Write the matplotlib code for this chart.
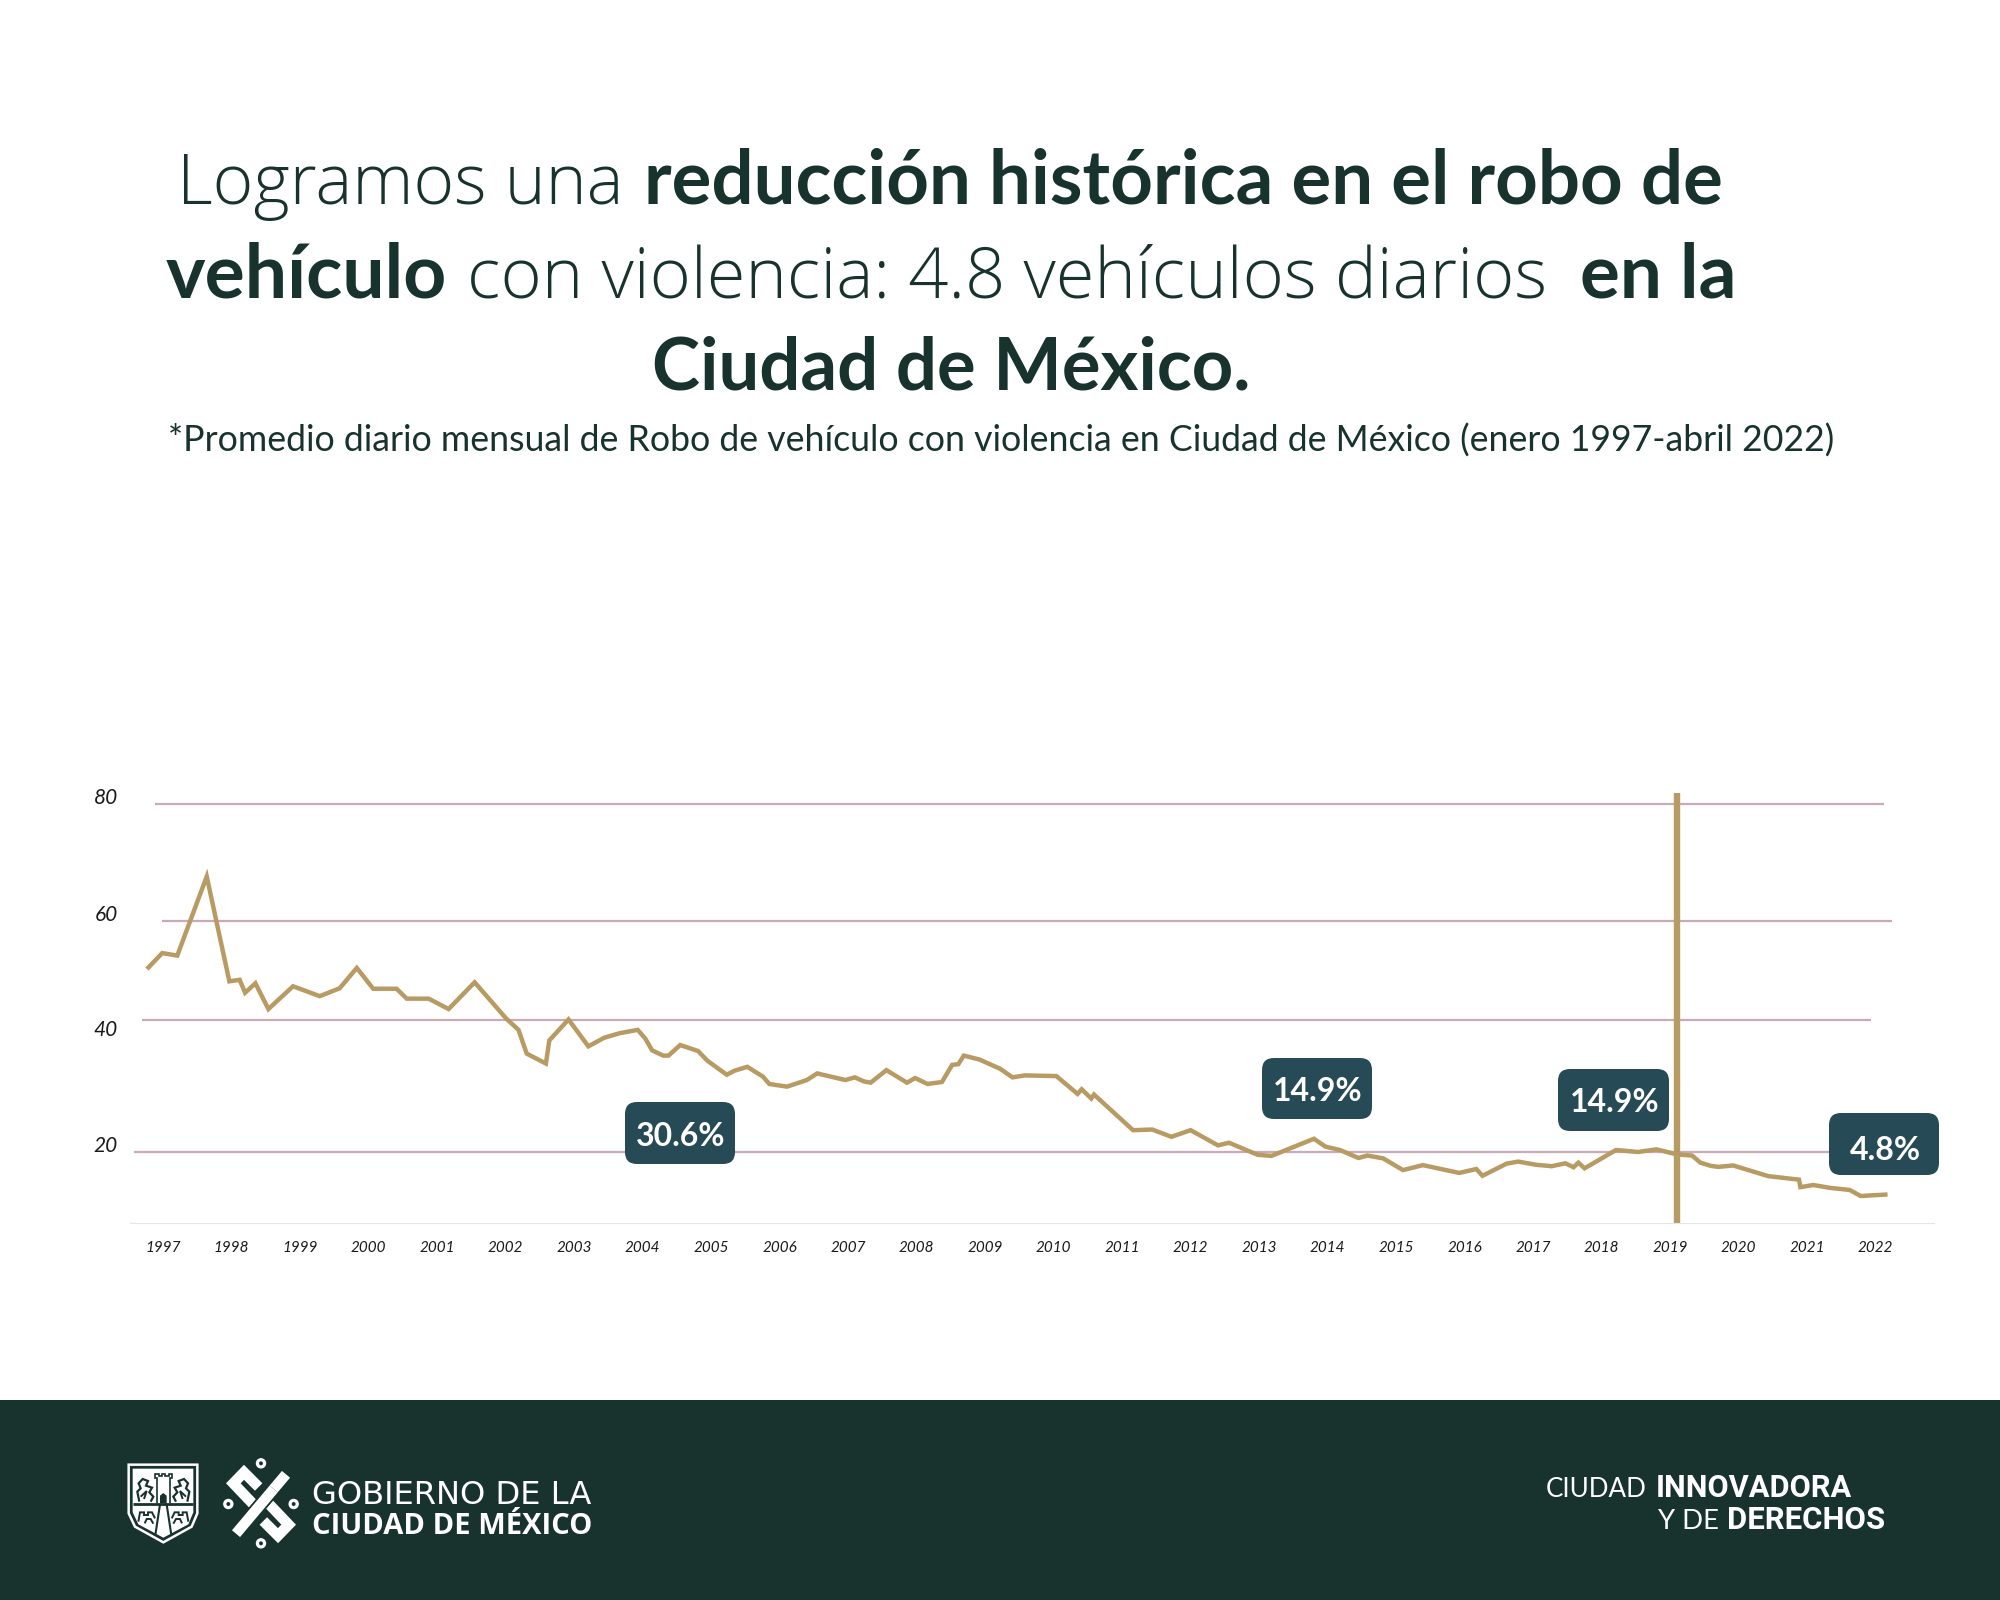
import numpy as np
import matplotlib
matplotlib.use("Agg")
import matplotlib.pyplot as plt
from matplotlib.patches import FancyBboxPatch, Polygon, Rectangle, Circle

# decimal year, label of a year sits on its integer
x_years = [1996.79, 1996.99, 1997.21, 1997.64, 1997.97, 1998.12, 1998.20, 1998.35, 1998.54, 1998.90,
           1999.29, 1999.58, 1999.83, 2000.07, 2000.41, 2000.56, 2000.88, 2001.17, 2001.55, 2002.01,
           2002.19, 2002.31, 2002.59, 2002.64, 2002.92, 2003.21, 2003.44, 2003.67, 2003.93, 2004.04,
           2004.14, 2004.30, 2004.38, 2004.55, 2004.81, 2004.95, 2005.23, 2005.34, 2005.53, 2005.76,
           2005.85, 2006.11, 2006.40, 2006.55, 2006.96, 2007.10, 2007.23, 2007.33, 2007.56, 2007.86,
           2007.98, 2008.16, 2008.37, 2008.52, 2008.61, 2008.69, 2008.92, 2009.22, 2009.40, 2009.58,
           2010.04, 2010.35, 2010.41, 2010.55, 2010.59, 2011.16, 2011.44, 2011.72, 2012.00, 2012.40,
           2012.56, 2012.98, 2013.18, 2013.80, 2013.97, 2014.18, 2014.45, 2014.58, 2014.81, 2015.10,
           2015.39, 2015.92, 2016.17, 2016.26, 2016.61, 2016.78, 2017.04, 2017.27, 2017.47, 2017.59,
           2017.66, 2017.75, 2018.21, 2018.53, 2018.80, 2019.10, 2019.32, 2019.44, 2019.59, 2019.70,
           2019.92, 2020.43, 2020.88, 2020.90, 2021.09, 2021.33, 2021.62, 2021.78, 2022.14]
robos = [50.6, 53.5, 53.0, 67.6, 47.8, 48.1, 45.5, 47.4, 42.2, 46.8,
         44.8, 46.4, 50.5, 46.3, 46.3, 44.3, 44.3, 42.2, 47.6, 40.3,
         38.5, 34.9, 33.4, 36.9, 40.1, 36.0, 37.3, 38.0, 38.5, 37.2,
         35.4, 34.6, 34.6, 36.2, 35.3, 33.8, 31.7, 32.3, 32.9, 31.4,
         30.3, 29.9, 30.9, 31.9, 30.9, 31.3, 30.7, 30.5, 32.4, 30.5,
         31.2, 30.3, 30.6, 33.2, 33.3, 34.6, 34.0, 32.6, 31.3, 31.6,
         31.5, 28.8, 29.5, 28.1, 28.7, 23.3, 23.4, 22.3, 23.3, 21.0,
         21.4, 19.2, 18.9, 22.0, 20.8, 20.3, 18.3, 19.0, 18.2, 14.9,
         16.3, 14.1, 15.2, 13.3, 16.7, 17.3, 16.4, 16.0, 16.8, 15.7,
         17.0, 15.4, 20.3, 20.0, 20.4, 19.3, 19.0, 17.0, 16.1, 15.8,
         16.2, 13.2, 12.2, 10.1, 10.7, 9.9, 9.3, 7.6, 8.0]
years = list(range(1997, 2023))
grid_values = [80, 60, 40, 20]
grid_starts = [1996.88, 1996.99, 1996.69, 1996.58]
grid_ends = [2022.12, 2022.24, 2021.93, 2022.00]
grid_label_dy = [6, 6, -10, 6]
mark_year = 2019.10
pct_labels = ["30.6%", "14.9%", "14.9%", "4.8%"]

DARK = "#18322e"
GOLD = "#b89a63"
PINK = "#cbaab7"
BOX = "#264a56"
THIN = "Open Sans"

plt.rcParams["font.family"] = ["Lato", "DejaVu Sans"]

fig = plt.figure(figsize=(20, 16), dpi=100, facecolor="white")

# the picture's y axis is not even, the gridlines sit at these heights
scale_vals = [0, 20, 40, 60, 80, 100]
scale_px = [0, 71, 203, 302, 419, 536]


def fwd(v):
    return np.interp(v, scale_vals, scale_px)


def inv(p):
    return np.interp(p, scale_px, scale_vals)


ax = fig.add_axes([130 / 2000, 377 / 1600, 1804 / 2000, 463 / 1600], zorder=1)
ax.patch.set_alpha(0)
ax.set_yscale("function", functions=(fwd, inv))
ax.set_xlim(1996.52, 2022.85)
ax.set_ylim(0, 87.5)

for v, a, b in zip(grid_values, grid_starts, grid_ends):
    ax.hlines(v, a, b, color=PINK, lw=1.6)
ax.plot(x_years, robos, color=GOLD, lw=3.2, solid_joinstyle="miter")
ax.vlines(mark_year, -0.2, 81.9, color=GOLD, lw=4.6, clip_on=False)

for s in ["top", "left", "right"]:
    ax.spines[s].set_visible(False)
ax.spines["bottom"].set_color("#e6e6e6")
ax.set_yticks([])
ax.set_xticks(years)
ax.set_xticklabels(years, fontsize=11, style="italic", color="#1a1a1a")
ax.tick_params(axis="x", length=0, pad=13)

for v, dy in zip(grid_values, grid_label_dy):
    ax.annotate(str(v), (0, v), xycoords=ax.get_yaxis_transform(), xytext=(-12, dy),
                textcoords="offset pixels", ha="right", va="center",
                fontsize=15, style="italic", color="#1a1a1a")

# everything else is placed in picture pixels
over = fig.add_axes([0, 0, 1, 1], zorder=2)
over.set_xlim(0, 2000)
over.set_ylim(1600, 0)
over.axis("off")
over.add_patch(Rectangle((0, 1400), 2000, 200, color=DARK, lw=0))
rend = fig.canvas.get_renderer()


def fit_text(s, x0, x1, base, weight="normal", color=DARK, family="Lato"):
    t = over.text(x0, base, s, fontsize=50, fontweight=weight, color=color,
                  va="baseline", ha="left", family=[family, "DejaVu Sans"])
    w = t.get_window_extent(rend).width
    t.set_fontsize(50 * (x1 - x0) / w)
    return t


fit_text("Logramos una", 177, 624, 204, "light", family=THIN)
fit_text("reducción histórica en el robo de", 644, 1726, 204, "bold")
fit_text("vehículo", 166, 448, 297, "bold")
fit_text("con violencia: 4.8 vehículos diarios", 467, 1547, 297, "light", family=THIN)
fit_text("en la", 1580, 1737, 297, "bold")
fit_text("Ciudad de México.", 652, 1252, 390, "bold")
fit_text("*Promedio diario mensual de Robo de vehículo con violencia en Ciudad de México (enero 1997-abril 2022)",
         168, 1832, 452)

box_px = [(625, 1102, 735, 1164), (1262, 1058, 1372, 1119), (1558, 1069, 1669, 1131), (1829, 1113, 1939, 1175)]
text_dy = [3, 3, 3, 7]
for s, (x0, y0, x1, y1), dy in zip(pct_labels, box_px, text_dy):
    over.add_patch(FancyBboxPatch((x0 + 12, y0 + 12), x1 - x0 - 24, y1 - y0 - 24,
                                  boxstyle="round,pad=12,rounding_size=12", fc=BOX, ec="none"))
    over.text((x0 + x1) / 2 + 1, (y0 + y1) / 2 + dy, s, color="white", fontsize=23, fontweight="bold",
              ha="center", va="center")

# footer text
fit_text("GOBIERNO DE LA", 312, 592, 1504, color="white", family="DejaVu Sans")
fit_text("CIUDAD DE MÉXICO", 312, 592, 1534, "bold", "white", "Open Sans")
fit_text("CIUDAD", 1546, 1647, 1497, color="white")
fit_text("INNOVADORA", 1656, 1852, 1497, "bold", "white", "Roboto")
fit_text("Y DE", 1658, 1719, 1529, color="white")
fit_text("DERECHOS", 1727, 1885, 1529, "bold", "white", "Roboto")


# logos, coordinates of a 3x crop of the footer starting at (120, 1455)
def zc(pts):
    return np.array([(120 + a / 3, 1455 + b / 3) for a, b in pts])


def scribble(pts, lw=1.0, color=DARK):
    xy = zc(pts)
    over.plot(xy[:, 0], xy[:, 1], color=color, lw=lw, solid_joinstyle="miter", solid_capstyle="butt")


over.add_patch(Polygon(zc([(26, 29), (232, 29), (232, 175), (215, 215), (130, 262), (45, 215), (26, 175)]),
                       fc=DARK, ec="white", lw=1.8))
over.add_patch(Polygon(zc([(38, 41), (220, 41), (220, 172), (205, 208), (130, 248), (55, 208), (38, 172)]),
                       fc="white", ec="none"))
scribble([(38, 147), (220, 147)], 2.0)
# tower and door
scribble([(110, 145), (110, 70), (104, 70), (104, 56), (116, 56), (116, 62), (126, 62), (126, 56), (136, 56),
          (136, 62), (146, 62), (146, 56), (156, 56), (156, 70), (150, 70), (150, 145)], 1.2)
over.add_patch(Polygon(zc([(120, 145), (120, 122), (130, 114), (140, 122), (140, 145)]), fc=DARK, ec="none"))
# lions
scribble([(58, 140), (52, 110), (62, 100), (56, 85), (68, 72), (84, 78), (78, 92), (96, 98), (88, 112), (100, 125),
          (92, 140)], 1.6)
scribble([(62, 125), (80, 108), (72, 132)], 1.4)
scribble([(202, 140), (208, 110), (198, 100), (204, 85), (192, 72), (176, 78), (182, 92), (164, 98), (172, 112),
          (160, 125), (168, 140)], 1.6)
scribble([(198, 125), (180, 108), (188, 132)], 1.4)
# road and walls
scribble([(120, 148), (106, 240)], 1.5)
scribble([(140, 148), (154, 240)], 1.5)
scribble([(55, 200), (60, 172), (72, 172), (72, 180), (84, 180), (84, 172), (96, 172), (105, 190)], 1.4)
scribble([(205, 200), (200, 172), (188, 172), (188, 180), (176, 180), (176, 172), (164, 172), (155, 190)], 1.4)
scribble([(74, 205), (80, 192), (92, 192), (100, 206)], 1.4)
scribble([(186, 205), (180, 192), (168, 192), (160, 206)], 1.4)

# interlaced x, dark edge under each band leaves the slits
band = [(498, 58), (385, 192)]
hook = [(416, 96), (372, 52), (340, 85), (402, 150)]
for st in [hook, band]:
    for pts in [st, [(846 - a, 294 - b) for a, b in st]]:
        scribble(pts, 10.0)
        scribble(pts, 7.6, "white")
for c in [(423, 25), (325, 147), (521, 147), (423, 265)]:
    over.add_patch(Circle(zc([c])[0], 3.6, fc="none", ec="white", lw=2.3))

fig.savefig("out.png", dpi=100, facecolor="white")
